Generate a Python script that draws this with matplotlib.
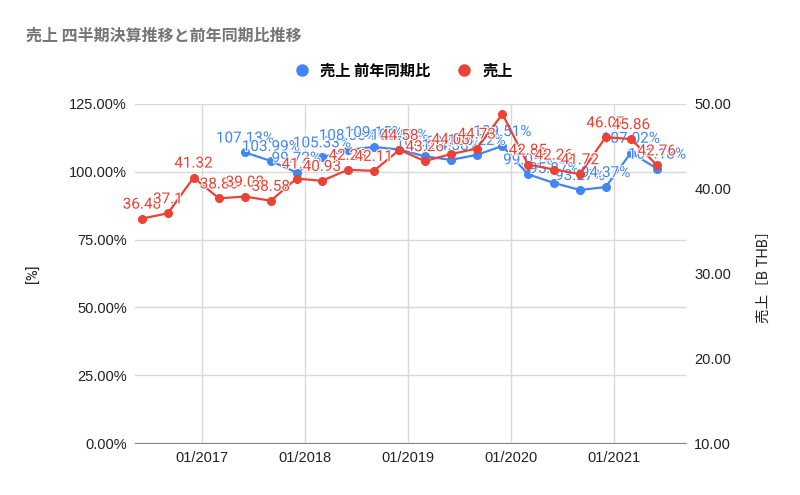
import matplotlib
matplotlib.use('Agg')
import matplotlib.pyplot as plt
import matplotlib.dates as mdates
import matplotlib.patheffects as pe
from matplotlib.lines import Line2D
import numpy as np
import pandas as pd

plt.rcParams['font.family'] = ['Roboto', 'Noto Sans CJK JP', 'DejaVu Sans']

# quarterly sales (B THB)
salesDates = pd.to_datetime([
    '2016-06-01', '2016-09-01', '2016-12-01',
    '2017-03-01', '2017-06-01', '2017-09-01', '2017-12-01',
    '2018-03-01', '2018-06-01', '2018-09-01', '2018-12-01',
    '2019-03-01', '2019-06-01', '2019-09-01', '2019-12-01',
    '2020-03-01', '2020-06-01', '2020-09-01', '2020-12-01',
    '2021-03-01', '2021-06-01'])
sales = [36.48, 37.1, 41.32,
         38.86, 39.08, 38.58, 41.2,
         40.93, 42.23, 42.11, 44.58,
         43.26, 44.08, 44.73, 48.82,
         42.85, 42.26, 41.72, 46.07,
         45.86, 42.76]
# the peak label is hidden behind the ratio labels in the original
hiddenSalesLabels = ['2019-12-01']

# year-on-year ratio (%)
yoyDates = salesDates[4:]
yoy = [107.13, 103.99, 99.72,
       105.33, 108.06, 109.15, 108.2,
       105.69, 104.38, 106.22, 109.51,
       99.05, 95.87, 93.27, 94.37,
       107.02, 101.18]

blue = '#4285F4'
red = '#EA4335'
tickFont = dict(family=['Liberation Sans', 'Noto Sans CJK JP'], size=10.5, color='#222222')
halo = [pe.withStroke(linewidth=1.5, foreground='white')]

fig = plt.figure(figsize=(8, 4.95), dpi=100)
ax = fig.add_axes([0.169, 0.105, 0.6885, 0.685])
ax2 = ax.twinx()

ax.plot(yoyDates, yoy, color=blue, lw=1.6, marker='o', ms=5.5, zorder=3)
ax2.plot(salesDates, sales, color=red, lw=1.6, marker='o', ms=5.5, zorder=3)

for d, v in zip(yoyDates, yoy):
    ax.annotate(f'{v:.2f}%', (d, v), xytext=(0, 5), textcoords='offset points',
                ha='center', va='bottom', fontsize=11, color=blue,
                family='Roboto', path_effects=halo, zorder=4)
for d, v in zip(salesDates, sales):
    if d.strftime('%Y-%m-%d') in hiddenSalesLabels:
        continue
    ax2.annotate(f'{v:g}', (d, v), xytext=(0, 5), textcoords='offset points',
                 ha='center', va='bottom', fontsize=11, color=red,
                 family='Roboto', path_effects=halo, zorder=4)

ax.set_ylim(0, 125)
ax.set_yticks(np.arange(0, 126, 25))
ax.set_yticklabels([f'{t:.2f}%' for t in np.arange(0, 126, 25)], **tickFont)
ax2.set_ylim(10, 50)
ax2.set_yticks(np.arange(10, 51, 10))
ax2.set_yticklabels([f'{t:.2f}' for t in np.arange(10, 51, 10)], **tickFont)

ax.set_xlim(pd.Timestamp('2016-05-08'), pd.Timestamp('2021-09-12'))
ax.xaxis.set_major_locator(mdates.YearLocator())
ax.xaxis.set_major_formatter(mdates.DateFormatter('%m/%Y'))
for lbl in ax.get_xticklabels():
    lbl.set_fontfamily(tickFont['family'])
    lbl.set_fontsize(tickFont['size'])
    lbl.set_color(tickFont['color'])

ax.grid(True, color='#d9d9d9', lw=1)
ax.set_axisbelow(True)
for a in (ax, ax2):
    for s in a.spines.values():
        s.set_visible(False)
    a.tick_params(length=0, pad=6)
ax.spines['bottom'].set_visible(True)
ax.spines['bottom'].set_color('#888888')

ax.set_ylabel('[%]', fontsize=10.5, color='#222222', labelpad=20)
ax2.set_ylabel('売上［B THB］', fontsize=10.5, color='#222222', labelpad=18)

fig.text(0.0325, 0.928, '売上 四半期決算推移と前年同期比推移', fontsize=11.5,
         fontweight='bold', color='#757575', family='Noto Sans CJK JP', va='center')

handles = [Line2D([], [], ls='none', marker='o', ms=8, color=blue),
           Line2D([], [], ls='none', marker='o', ms=8, color=red)]
fig.legend(handles, ['売上 前年同期比', '売上'], loc='center', bbox_to_anchor=(0.5, 0.858),
           ncol=2, frameon=False, handletextpad=0.2, columnspacing=1.2,
           prop=dict(family='Noto Sans CJK JP', size=11, weight='bold'))

fig.savefig('out.png', dpi=100)
